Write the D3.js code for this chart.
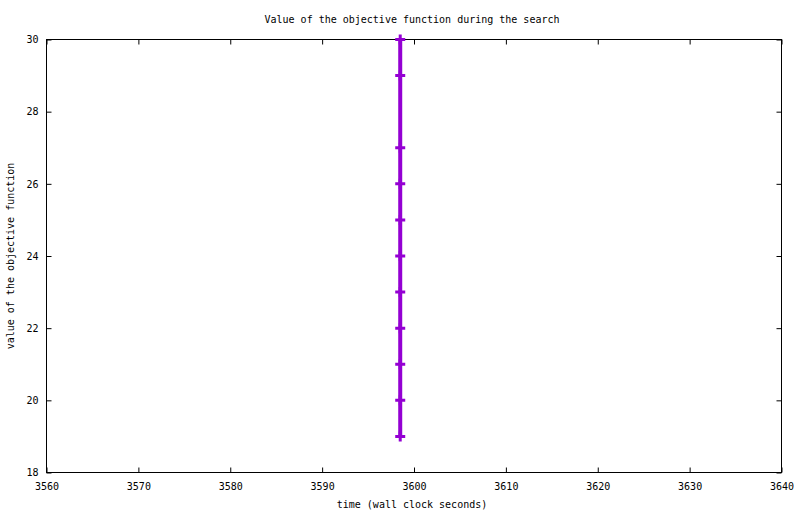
<!DOCTYPE html>
<html>
<head>
<meta charset="utf-8">
<script src="https://cdn.jsdelivr.net/npm/d3@7"></script>
<style>
  body { margin: 0; background: #fff; }
  text { font-family: "DejaVu Sans Mono", monospace; font-size: 10px; fill: #000; }
</style>
</head>
<body>
<svg id="chart" width="800" height="514"></svg>
<script>
// search progress: wall clock seconds vs objective value
const times = [3598.5, 3598.5, 3598.5, 3598.5, 3598.5, 3598.5, 3598.5, 3598.5, 3598.5, 3598.5, 3598.5];
const objective = [30, 29, 27, 26, 25, 24, 23, 22, 21, 20, 19];
const xTicks = [3560, 3570, 3580, 3590, 3600, 3610, 3620, 3630, 3640];
const yTicks = [18, 20, 22, 24, 26, 28, 30];

const width = 800,
  height = 514;
const margin = { top: 39, bottom: 42, left: 46, right: 19 };
const innerWidth = width - margin.left - margin.right,
  innerHeight = height - margin.top - margin.bottom;

const points = times.map((t, i) => ({ t: t, v: objective[i] }));

const x = d3.scaleLinear().domain([3560, 3640]).range([0, innerWidth]);
const y = d3.scaleLinear().domain([18, 30]).range([innerHeight, 0]);

const svg = d3.select("#chart");
const g = svg
  .append("g")
  .attr("transform", `translate(${margin.left + 0.5}, ${margin.top + 0.5})`);

// axes, ticks drawn inward and mirrored like gnuplot
const tickLen = 5;
g.append("g")
  .attr("transform", `translate(0, ${innerHeight})`)
  .call(d3.axisBottom(x).tickValues(xTicks).tickFormat(d3.format("d")).tickSizeInner(-tickLen).tickSizeOuter(0).tickPadding(10))
  .call((a) => a.select(".domain").remove());
g.append("g")
  .call(d3.axisTop(x).tickValues(xTicks).tickSizeInner(-tickLen).tickSizeOuter(0))
  .call((a) => a.select(".domain").remove())
  .call((a) => a.selectAll("text").remove());
g.append("g")
  .call(d3.axisLeft(y).tickValues(yTicks).tickSizeInner(-tickLen).tickSizeOuter(0).tickPadding(8))
  .call((a) => a.select(".domain").remove());
g.append("g")
  .attr("transform", `translate(${innerWidth}, 0)`)
  .call(d3.axisRight(y).tickValues(yTicks).tickSizeInner(-tickLen).tickSizeOuter(0))
  .call((a) => a.select(".domain").remove())
  .call((a) => a.selectAll("text").remove());

g.selectAll(".tick text").style("font-family", '"DejaVu Sans Mono", monospace').style("font-size", "10px");
g.selectAll(".tick line").attr("stroke", "#000");

g.append("rect")
  .attr("width", innerWidth)
  .attr("height", innerHeight)
  .attr("fill", "none")
  .attr("stroke", "#000");

// the series
const color = "#9400d3";
g.append("path")
  .datum(points)
  .attr("fill", "none")
  .attr("stroke", color)
  .attr("stroke-width", 4)
  .attr("d", d3.line().x((d) => x(d.t)).y((d) => y(d.v)));

g.selectAll(".pt")
  .data(points)
  .join("path")
  .attr("class", "pt")
  .attr("fill", "none")
  .attr("stroke", color)
  .attr("stroke-width", 3)
  .attr("d", (d) => {
    const px = x(d.t), py = y(d.v), s = 5;
    return `M${px - s},${py}H${px + s}M${px},${py - s}V${py + s}`;
  });

// titles
svg.append("text")
  .attr("x", 412)
  .attr("y", 23)
  .attr("text-anchor", "middle")
  .text("Value of the objective function during the search");
svg.append("text")
  .attr("x", 412)
  .attr("y", 508)
  .attr("text-anchor", "middle")
  .text("time (wall clock seconds)");
svg.append("text")
  .attr("transform", "translate(14, 256) rotate(-90)")
  .attr("text-anchor", "middle")
  .text("value of the objective function");
</script>
</body>
</html>
